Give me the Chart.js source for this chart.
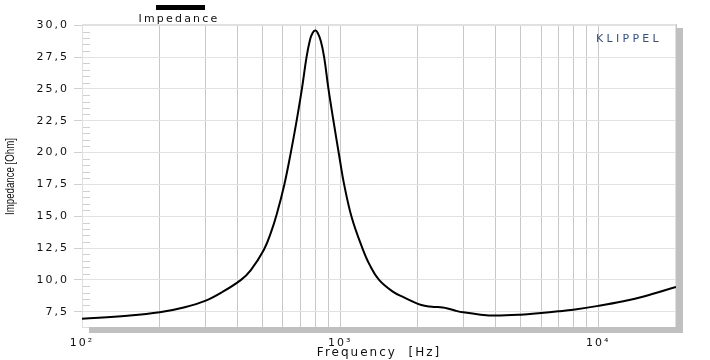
<!DOCTYPE html>
<html>
<head>
<meta charset="utf-8">
<script src="https://cdn.jsdelivr.net/npm/chart.js"></script>
<style>
  body { margin: 0; background: #fff; }
  canvas { display: block; }
</style>
</head>
<body>
<canvas id="impChart" width="710" height="360"></canvas>
<script>
// frequency points (Hz)
const freq = [100, 150, 200, 250, 300, 350, 413, 450, 506, 540, 568, 608, 644, 675, 711, 741, 764, 782, 800, 817, 842, 867, 901, 942,
              1000, 1036, 1109, 1219, 1300, 1415, 1600, 1766, 2000, 2150, 2300, 2500, 2650, 2800, 3000, 3500, 4000, 5000, 6000,
              7000, 8000, 10000, 12500, 15000, 20000];
// impedance (Ohm)
const impedance = [6.95, 7.18, 7.45, 7.85, 8.35, 9.05, 10.0, 10.75, 12.35, 13.75, 15.15, 17.5, 20.0, 22.25, 25.0, 27.5, 28.85, 29.4, 29.58, 29.43, 28.75, 27.5, 25.0, 22.5,
                   19.3, 17.5, 14.9, 12.5, 11.2, 10.0, 9.08, 8.62, 8.12, 7.95, 7.88, 7.84, 7.72, 7.58, 7.45, 7.27, 7.2, 7.27, 7.4,
                   7.53, 7.66, 7.96, 8.32, 8.7, 9.45];

const xGridTicks = [100, 200, 300, 400, 500, 600, 700, 800, 900, 1000, 2000, 3000, 4000, 5000, 6000, 7000, 8000, 9000, 10000, 20000];
const xLabels = {100: '10²', 1000: '10³', 10000: '10⁴'};
const yTicks = [7.5, 10, 12.5, 15, 17.5, 20, 22.5, 25, 27.5, 30];

const points = freq.map((f, i) => ({x: f, y: impedance[i]}));

const decorPlugin = {
  id: 'decor',
  beforeDraw(chart) {
    const ctx = chart.ctx;
    ctx.save();
    ctx.fillStyle = '#fff';
    ctx.fillRect(0, 0, chart.width, chart.height);
    ctx.restore();
    ctx.letterSpacing = '2px';
  },
  beforeDatasetsDraw(chart) {
    const ctx = chart.ctx;
    const a = chart.chartArea;
    const y = chart.scales.y;
    ctx.save();
    // minor ticks on the left edge
    ctx.strokeStyle = '#d0d0d0';
    ctx.lineWidth = 1;
    for (let v = 7.0; v < 30.01; v += 0.5) {
      if (Math.abs(v / 2.5 - Math.round(v / 2.5)) < 0.01) continue;
      const py = Math.round(y.getPixelForValue(v)) + 0.5;
      ctx.beginPath();
      ctx.moveTo(a.left, py);
      ctx.lineTo(a.left + 8, py);
      ctx.stroke();
    }
    // frame
    ctx.strokeStyle = '#e0e0e0';
    ctx.strokeRect(a.left + 0.5, a.top + 0.5, a.right - a.left - 1, a.bottom - a.top);
    ctx.restore();
  },
  afterDraw(chart) {
    const ctx = chart.ctx;
    const a = chart.chartArea;
    ctx.save();
    // drop shadow
    ctx.fillStyle = '#c0c0c0';
    ctx.fillRect(a.right, a.top + 4, 7, a.bottom - a.top + 2);
    ctx.fillRect(a.left + 7, a.bottom, a.right - a.left, 6);

    // legend
    ctx.fillStyle = '#000';
    ctx.fillRect(156, 5, 49, 5);
    ctx.font = '11px "DejaVu Sans"';
    ctx.letterSpacing = '2.2px';
    ctx.textAlign = 'center';
    ctx.textBaseline = 'alphabetic';
    ctx.fillStyle = '#111';
    ctx.fillText('Impedance', 179, 22);

    // brand
    ctx.font = '11px "DejaVu Sans"';
    ctx.letterSpacing = '3.3px';
    ctx.textAlign = 'left';
    ctx.fillStyle = '#34508f';
    ctx.fillText('KLIPPEL', 596, 42);

    // y title, narrow
    ctx.letterSpacing = '0px';
    ctx.font = '12px "Liberation Sans"';
    ctx.fillStyle = '#111';
    ctx.translate(14, 176.5);
    ctx.rotate(-Math.PI / 2);
    const w = ctx.measureText('Impedance [Ohm]').width;
    ctx.scale(77 / w, 1);
    ctx.textAlign = 'center';
    ctx.fillText('Impedance [Ohm]', 0, 0);
    ctx.restore();
  }
};

new Chart(document.getElementById('impChart').getContext('2d'), {
  type: 'line',
  data: {
    datasets: [{
      label: 'Impedance',
      data: points,
      borderColor: '#000',
      borderWidth: 2,
      pointRadius: 0,
      fill: false,
      tension: 0.4
    }]
  },
  options: {
    responsive: false,
    animation: false,
    layout: { padding: { top: 24, right: 34, left: 0, bottom: 0 } },
    plugins: {
      legend: { display: false },
      tooltip: { enabled: false }
    },
    scales: {
      x: {
        type: 'logarithmic',
        min: 100,
        max: 20000,
        afterFit(s) { s.height = 33; },
        afterBuildTicks(s) { s.ticks = xGridTicks.map(v => ({value: v})); },
        grid: { color: '#c8c8c8', drawTicks: false },
        border: { display: false },
        ticks: {
          autoSkip: false,
          maxRotation: 0,
          padding: 10,
          color: '#111',
          font: { family: 'DejaVu Sans', size: 11 },
          callback: v => xLabels[v] || ''
        },
        title: {
          display: true,
          text: 'Frequency  [Hz]',
          color: '#111',
          font: { family: 'DejaVu Sans', size: 12 },
          padding: 0
        }
      },
      y: {
        min: 6.3,
        max: 30.1,
        afterFit(s) { s.width = 82; },
        afterBuildTicks(s) { s.ticks = yTicks.map(v => ({value: v})); },
        grid: { color: '#e2e2e2', tickLength: 8, tickColor: '#d0d0d0' },
        border: { color: '#d8d8d8' },
        ticks: {
          padding: 5,
          color: '#111',
          font: { family: 'DejaVu Sans', size: 11 },
          callback: v => v.toFixed(1).replace('.', ',')
        }
      }
    }
  },
  plugins: [decorPlugin]
});
</script>
</body>
</html>
